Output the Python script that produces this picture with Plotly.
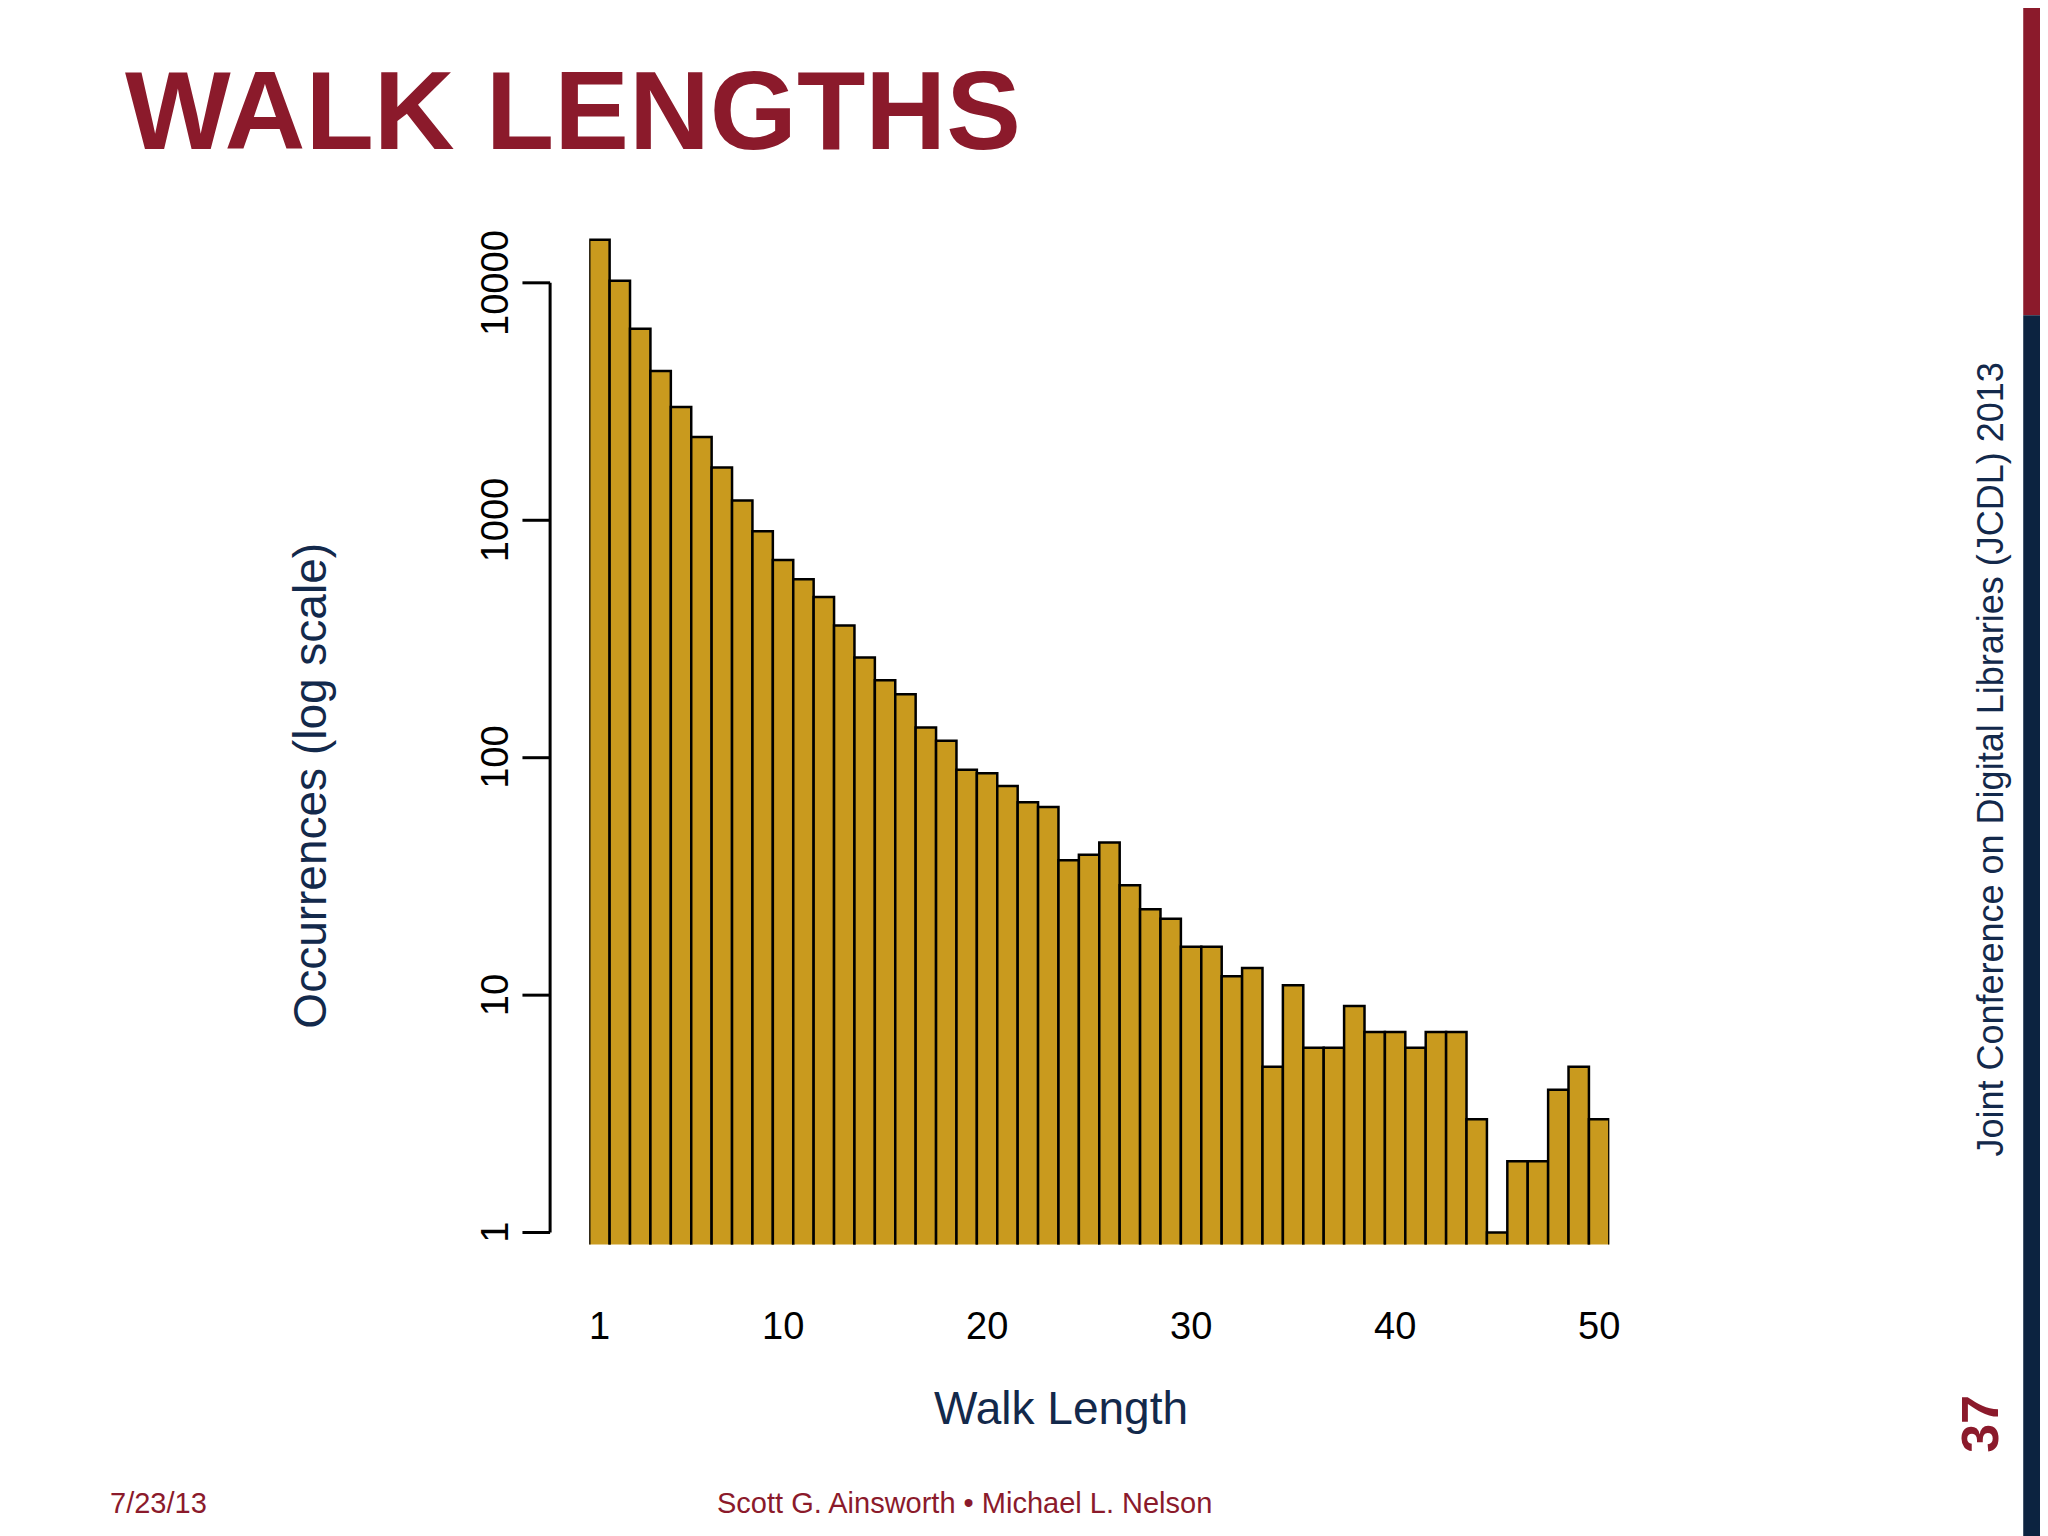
import math
import plotly.graph_objects as go

walk_length = list(range(1, 51))
occurrences = [15200, 10200, 6400, 4250, 3000, 2240, 1670, 1210, 900, 680,
               565, 475, 360, 264, 212, 185, 134, 118, 89, 86,
               76, 65, 62, 37, 39, 44, 29, 23, 21, 16,
               16, 12, 13, 5, 11, 6, 6, 9, 7, 7,
               6, 7, 7, 3, 1, 2, 2, 4, 5, 3]
y_ticks = [1, 10, 100, 1000, 10000]
x_ticks = [1, 10, 20, 30, 40, 50]

NAVY = "#13294b"
RED = "#8b1a2b"
GOLD = "#c99a1e"
FONT = "Liberation Sans"

fig = go.Figure(go.Bar(x=walk_length, y=occurrences, width=1.0,
                       marker=dict(color=GOLD, line=dict(color="black", width=2.5))))

YAX = 0.2647
fig.update_layout(
    width=2048, height=1536, margin=dict(l=0, r=0, t=0, b=0),
    paper_bgcolor="white", plot_bgcolor="white", showlegend=False,
    xaxis=dict(domain=[0.2838, 0.7819], range=[0.5, 50.5], showgrid=False,
               zeroline=False, showline=False, showticklabels=False, ticks=""),
    yaxis=dict(domain=[0.195, 0.852], type="log", range=[-0.05, 4.2],
               showgrid=False, zeroline=False, showline=False,
               showticklabels=False, ticks=""),
    font=dict(family=FONT),
)

shapes = [dict(type="line", xref="paper", yref="y", x0=YAX, x1=YAX,
               y0=1, y1=10000, line=dict(color="black", width=3))]
ann = []
for t in y_ticks:
    shapes.append(dict(type="line", xref="paper", yref="y", x0=YAX - 0.0135, x1=YAX,
                       y0=t, y1=t, line=dict(color="black", width=3)))
    ann.append(dict(text=str(t), xref="paper", yref="y", x=0.2266, y=math.log10(t),
                    showarrow=False, textangle=-90, font=dict(size=38, color="black")))
for t in x_ticks:
    ann.append(dict(text=str(t), xref="x", yref="paper", x=t, y=0.127,
                    showarrow=False, font=dict(size=38, color="black")))

ann += [
    dict(text="Walk Length", xref="paper", yref="paper", x=0.514, y=0.070,
         showarrow=False, font=dict(size=46, color=NAVY)),
    dict(text="Occurrences (log scale)", xref="paper", yref="paper", x=0.134, y=0.494,
         showarrow=False, textangle=-90, font=dict(size=46, color=NAVY)),
    dict(text="<b>WALK LENGTHS</b>", xref="paper", yref="paper", x=0.056, y=0.975,
         xanchor="left", yanchor="top", showarrow=False,
         font=dict(size=112, color=RED, family=FONT)),
    dict(text="Joint Conference on Digital Libraries (JCDL) 2013", xref="paper", yref="paper",
         x=0.979, y=0.511, showarrow=False, textangle=-90, font=dict(size=36, color=NAVY)),
    dict(text="<b>37</b>", xref="paper", yref="paper", x=0.978, y=0.058,
         showarrow=False, textangle=-90, font=dict(size=52, color=RED)),
    dict(text="7/23/13", xref="paper", yref="paper", x=0.049, y=0.015, xanchor="left",
         showarrow=False, font=dict(size=29, color=RED)),
    dict(text="Scott G. Ainsworth • Michael L. Nelson", xref="paper", yref="paper",
         x=0.467, y=0.015, showarrow=False, font=dict(size=29, color=RED)),
]
shapes += [
    dict(type="rect", xref="paper", yref="paper", x0=0.984, x1=1.0, y0=0.80, y1=1.0,
         fillcolor=RED, line=dict(width=0)),
    dict(type="rect", xref="paper", yref="paper", x0=0.984, x1=1.0, y0=0.0, y1=0.80,
         fillcolor="#0c2340", line=dict(width=0)),
]
fig.update_layout(shapes=shapes, annotations=ann)
fig.write_html("out.html")
